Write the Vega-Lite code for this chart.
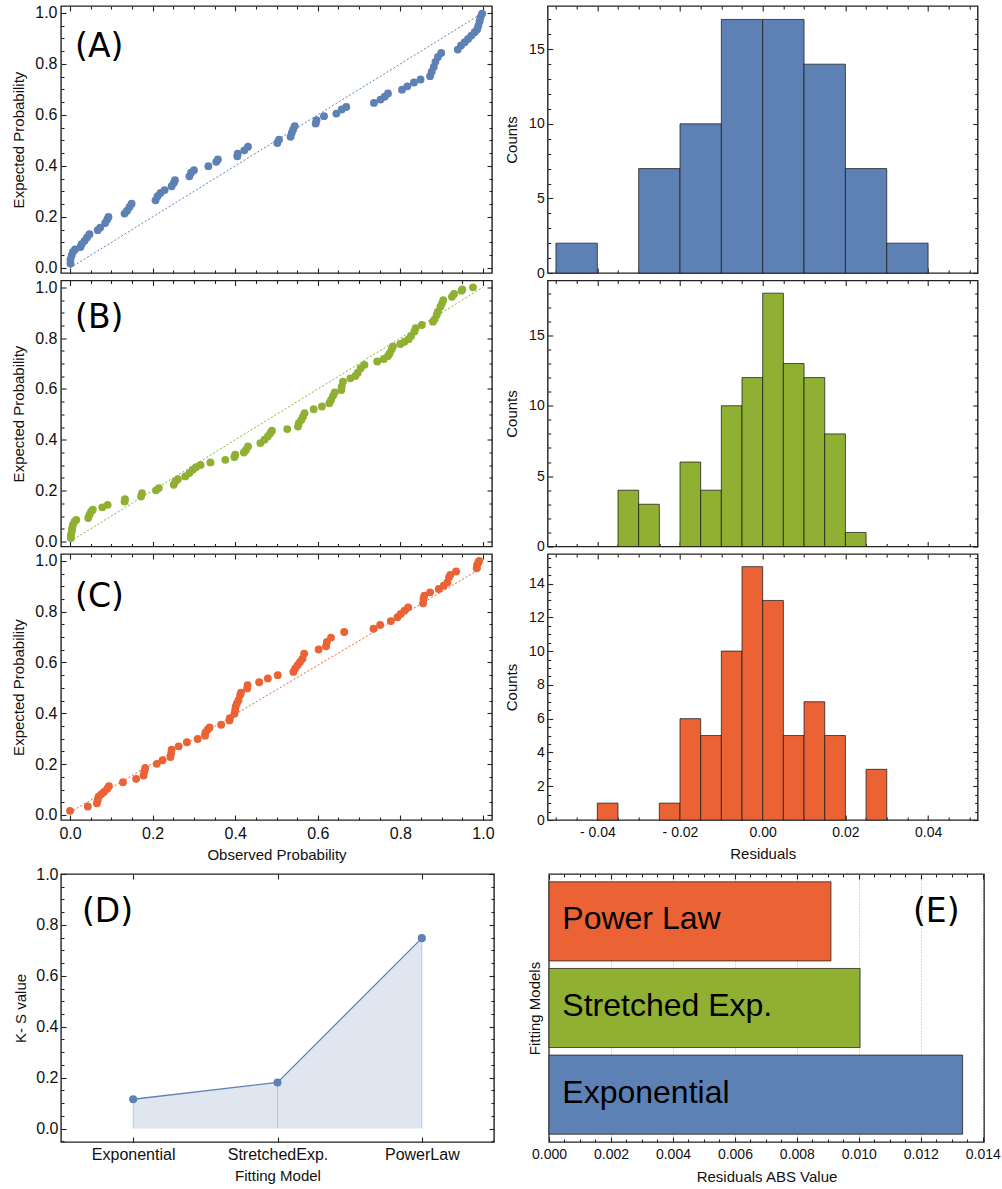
{
"$schema": "https://vega.github.io/schema/vega-lite/v6.json",
"background": "white",
"padding": {"left": 11, "top": 4, "right": 2, "bottom": 2},
"config": {
 "font": "Liberation Sans",
 "view": {"stroke": "#222", "strokeWidth": 1.4},
 "axis": {"domain": false, "grid": false, "tickColor": "#222", "tickWidth": 1.1, "tickSize": -5, "labelFont": "Liberation Sans", "labelFontSize": 16, "labelColor": "#111", "titleFont": "Liberation Sans", "titleFontSize": 15, "titleFontWeight": "normal", "titleColor": "#111", "labelFlush": false, "labelOverlap": false, "labelPadding": 9, "titlePadding": 7},
 "text": {"font": "Liberation Sans", "color": "#000"}
},
"datasets": {
 "ppA": [{"obs":0.001,"exp":0.017},{"obs":0.001,"exp":0.033},{"obs":0.004,"exp":0.050},{"obs":0.007,"exp":0.063},{"obs":0.012,"exp":0.072},{"obs":0.025,"exp":0.082},{"obs":0.028,"exp":0.093},{"obs":0.035,"exp":0.106},{"obs":0.041,"exp":0.119},{"obs":0.047,"exp":0.132},{"obs":0.067,"exp":0.148},{"obs":0.073,"exp":0.158},{"obs":0.085,"exp":0.176},{"obs":0.090,"exp":0.190},{"obs":0.093,"exp":0.200},{"obs":0.132,"exp":0.213},{"obs":0.138,"exp":0.224},{"obs":0.144,"exp":0.239},{"obs":0.149,"exp":0.252},{"obs":0.207,"exp":0.265},{"obs":0.212,"exp":0.281},{"obs":0.219,"exp":0.294},{"obs":0.229,"exp":0.305},{"obs":0.246,"exp":0.320},{"obs":0.251,"exp":0.333},{"obs":0.254,"exp":0.344},{"obs":0.289,"exp":0.359},{"obs":0.293,"exp":0.373},{"obs":0.300,"exp":0.383},{"obs":0.335,"exp":0.399},{"obs":0.354,"exp":0.416},{"obs":0.358,"exp":0.425},{"obs":0.405,"exp":0.438},{"obs":0.406,"exp":0.448},{"obs":0.422,"exp":0.461},{"obs":0.431,"exp":0.475},{"obs":0.502,"exp":0.490},{"obs":0.506,"exp":0.503},{"obs":0.534,"exp":0.514},{"obs":0.537,"exp":0.529},{"obs":0.540,"exp":0.542},{"obs":0.544,"exp":0.556},{"obs":0.595,"exp":0.566},{"obs":0.597,"exp":0.579},{"obs":0.615,"exp":0.595},{"obs":0.645,"exp":0.605},{"obs":0.658,"exp":0.621},{"obs":0.669,"exp":0.631},{"obs":0.736,"exp":0.647},{"obs":0.752,"exp":0.660},{"obs":0.762,"exp":0.671},{"obs":0.770,"exp":0.684},{"obs":0.804,"exp":0.699},{"obs":0.817,"exp":0.712},{"obs":0.833,"exp":0.727},{"obs":0.849,"exp":0.739},{"obs":0.872,"exp":0.752},{"obs":0.876,"exp":0.769},{"obs":0.881,"exp":0.788},{"obs":0.885,"exp":0.808},{"obs":0.891,"exp":0.827},{"obs":0.899,"exp":0.843},{"obs":0.939,"exp":0.856},{"obs":0.947,"exp":0.872},{"obs":0.956,"exp":0.885},{"obs":0.964,"exp":0.898},{"obs":0.972,"exp":0.911},{"obs":0.980,"exp":0.924},{"obs":0.986,"exp":0.935},{"obs":0.989,"exp":0.950},{"obs":0.992,"exp":0.966},{"obs":0.994,"exp":0.982},{"obs":0.998,"exp":0.997}],
 "ppB": [{"obs":0.002,"exp":0.013},{"obs":0.002,"exp":0.026},{"obs":0.004,"exp":0.039},{"obs":0.005,"exp":0.052},{"obs":0.007,"exp":0.066},{"obs":0.011,"exp":0.079},{"obs":0.015,"exp":0.085},{"obs":0.044,"exp":0.092},{"obs":0.047,"exp":0.105},{"obs":0.051,"exp":0.118},{"obs":0.055,"exp":0.125},{"obs":0.078,"exp":0.134},{"obs":0.091,"exp":0.144},{"obs":0.132,"exp":0.157},{"obs":0.133,"exp":0.166},{"obs":0.172,"exp":0.177},{"obs":0.174,"exp":0.190},{"obs":0.208,"exp":0.201},{"obs":0.215,"exp":0.210},{"obs":0.251,"exp":0.223},{"obs":0.255,"exp":0.236},{"obs":0.261,"exp":0.245},{"obs":0.279,"exp":0.256},{"obs":0.289,"exp":0.269},{"obs":0.297,"exp":0.282},{"obs":0.305,"exp":0.292},{"obs":0.316,"exp":0.301},{"obs":0.340,"exp":0.311},{"obs":0.376,"exp":0.321},{"obs":0.398,"exp":0.332},{"obs":0.400,"exp":0.341},{"obs":0.421,"exp":0.350},{"obs":0.426,"exp":0.360},{"obs":0.431,"exp":0.374},{"obs":0.461,"exp":0.387},{"obs":0.471,"exp":0.400},{"obs":0.479,"exp":0.413},{"obs":0.485,"exp":0.426},{"obs":0.489,"exp":0.436},{"obs":0.526,"exp":0.442},{"obs":0.552,"exp":0.452},{"obs":0.554,"exp":0.465},{"obs":0.560,"exp":0.478},{"obs":0.564,"exp":0.491},{"obs":0.568,"exp":0.505},{"obs":0.590,"exp":0.520},{"obs":0.610,"exp":0.531},{"obs":0.628,"exp":0.544},{"obs":0.632,"exp":0.557},{"obs":0.637,"exp":0.573},{"obs":0.641,"exp":0.586},{"obs":0.657,"exp":0.596},{"obs":0.658,"exp":0.609},{"obs":0.661,"exp":0.629},{"obs":0.679,"exp":0.642},{"obs":0.691,"exp":0.651},{"obs":0.697,"exp":0.664},{"obs":0.704,"exp":0.682},{"obs":0.713,"exp":0.695},{"obs":0.744,"exp":0.708},{"obs":0.760,"exp":0.718},{"obs":0.770,"exp":0.730},{"obs":0.774,"exp":0.740},{"obs":0.779,"exp":0.756},{"obs":0.782,"exp":0.767},{"obs":0.800,"exp":0.777},{"obs":0.810,"exp":0.786},{"obs":0.820,"exp":0.796},{"obs":0.826,"exp":0.809},{"obs":0.834,"exp":0.826},{"obs":0.837,"exp":0.839},{"obs":0.852,"exp":0.852},{"obs":0.879,"exp":0.865},{"obs":0.883,"exp":0.874},{"obs":0.888,"exp":0.891},{"obs":0.891,"exp":0.904},{"obs":0.897,"exp":0.924},{"obs":0.901,"exp":0.937},{"obs":0.904,"exp":0.950},{"obs":0.925,"exp":0.963},{"obs":0.930,"exp":0.974},{"obs":0.948,"exp":0.987},{"obs":0.950,"exp":0.992},{"obs":0.976,"exp":1.0}],
 "ppC": [{"obs":0.000,"exp":0.016},{"obs":0.043,"exp":0.033},{"obs":0.065,"exp":0.046},{"obs":0.067,"exp":0.059},{"obs":0.069,"exp":0.072},{"obs":0.075,"exp":0.081},{"obs":0.082,"exp":0.090},{"obs":0.090,"exp":0.103},{"obs":0.094,"exp":0.113},{"obs":0.128,"exp":0.129},{"obs":0.160,"exp":0.142},{"obs":0.178,"exp":0.155},{"obs":0.180,"exp":0.172},{"obs":0.182,"exp":0.185},{"obs":0.210,"exp":0.201},{"obs":0.224,"exp":0.215},{"obs":0.243,"exp":0.228},{"obs":0.245,"exp":0.244},{"obs":0.246,"exp":0.257},{"obs":0.263,"exp":0.270},{"obs":0.283,"exp":0.286},{"obs":0.309,"exp":0.299},{"obs":0.327,"exp":0.312},{"obs":0.328,"exp":0.325},{"obs":0.333,"exp":0.335},{"obs":0.338,"exp":0.344},{"obs":0.366,"exp":0.355},{"obs":0.386,"exp":0.372},{"obs":0.387,"exp":0.381},{"obs":0.398,"exp":0.398},{"obs":0.400,"exp":0.413},{"obs":0.401,"exp":0.426},{"obs":0.404,"exp":0.439},{"obs":0.408,"exp":0.452},{"obs":0.412,"exp":0.472},{"obs":0.414,"exp":0.481},{"obs":0.429,"exp":0.498},{"obs":0.430,"exp":0.511},{"obs":0.458,"exp":0.522},{"obs":0.479,"exp":0.537},{"obs":0.503,"exp":0.550},{"obs":0.541,"exp":0.563},{"obs":0.545,"exp":0.576},{"obs":0.551,"exp":0.589},{"obs":0.557,"exp":0.602},{"obs":0.563,"exp":0.615},{"obs":0.567,"exp":0.635},{"obs":0.602,"exp":0.651},{"obs":0.620,"exp":0.664},{"obs":0.622,"exp":0.681},{"obs":0.632,"exp":0.698},{"obs":0.664,"exp":0.720},{"obs":0.735,"exp":0.733},{"obs":0.751,"exp":0.748},{"obs":0.777,"exp":0.763},{"obs":0.793,"exp":0.778},{"obs":0.801,"exp":0.791},{"obs":0.810,"exp":0.804},{"obs":0.819,"exp":0.817},{"obs":0.855,"exp":0.833},{"obs":0.856,"exp":0.850},{"obs":0.858,"exp":0.863},{"obs":0.872,"exp":0.876},{"obs":0.893,"exp":0.889},{"obs":0.905,"exp":0.902},{"obs":0.914,"exp":0.915},{"obs":0.918,"exp":0.935},{"obs":0.921,"exp":0.945},{"obs":0.935,"exp":0.958},{"obs":0.985,"exp":0.971},{"obs":0.986,"exp":0.984},{"obs":0.989,"exp":0.994},{"obs":0.991,"exp":1.0}],
 "refA": [{"obs":0,"exp":0},{"obs":1,"exp":1}],
 "refB": [{"obs":0,"exp":0},{"obs":1,"exp":1}],
 "refC": [{"obs":0,"exp":0.01},{"obs":1,"exp":0.975}],
 "hA": [{"start":-0.05,"end":-0.04,"count":2},{"start":-0.03,"end":-0.02,"count":7},{"start":-0.02,"end":-0.01,"count":10},{"start":-0.01,"end":0,"count":17},{"start":0,"end":0.01,"count":17},{"start":0.01,"end":0.02,"count":14},{"start":0.02,"end":0.03,"count":7},{"start":0.03,"end":0.04,"count":2}],
 "hB": [{"start":-0.035,"end":-0.03,"count":4},{"start":-0.03,"end":-0.025,"count":3},{"start":-0.02,"end":-0.015,"count":6},{"start":-0.015,"end":-0.01,"count":4},{"start":-0.01,"end":-0.005,"count":10},{"start":-0.005,"end":0,"count":12},{"start":0,"end":0.005,"count":18},{"start":0.005,"end":0.01,"count":13},{"start":0.01,"end":0.015,"count":12},{"start":0.015,"end":0.02,"count":8},{"start":0.02,"end":0.025,"count":1}],
 "hC": [{"start":-0.04,"end":-0.035,"count":1},{"start":-0.025,"end":-0.02,"count":1},{"start":-0.02,"end":-0.015,"count":6},{"start":-0.015,"end":-0.01,"count":5},{"start":-0.01,"end":-0.005,"count":10},{"start":-0.005,"end":0,"count":15},{"start":0,"end":0.005,"count":13},{"start":0.005,"end":0.01,"count":5},{"start":0.01,"end":0.015,"count":7},{"start":0.015,"end":0.02,"count":5},{"start":0.025,"end":0.03,"count":3}],
 "ks": [{"model":"Exponential","ks":0.115},{"model":"StretchedExp.","ks":0.181},{"model":"PowerLaw","ks":0.748}],
 "res": [{"model":"Power Law","abs":0.0091},{"model":"Stretched Exp.","abs":0.01004},{"model":"Exponential","abs":0.01335}]
},
"vconcat": [
 {
  "columns": 2,
  "bounds": "flush",
  "spacing": {"row": 7.5, "column": 55.7},
  "concat": [
   {
    "width": 431, "height": 267,
    "layer": [
     {"data": {"name": "refA"}, "mark": {"type": "line", "color": "#5E81B5", "strokeDash": [2, 2], "strokeWidth": 1},
      "encoding": {"x": {"field": "obs", "type": "quantitative", "scale": {"domain": [-0.022, 1.022], "nice": false}, "axis": null}, "y": {"field": "exp", "type": "quantitative", "scale": {"domain": [-0.02, 1.027], "nice": false}, "axis": null}}},
     {"data": {"name": "ppA"}, "mark": {"type": "point", "filled": true, "size": 62, "color": "#5E81B5", "opacity": 1},
      "encoding": {"x": {"field": "obs", "type": "quantitative", "scale": {"domain": [-0.022, 1.022], "nice": false}, "axis": {"orient": "bottom", "values": [0, 0.2, 0.4, 0.6, 0.8, 1], "labels": false, "title": null}}, "y": {"field": "exp", "type": "quantitative", "scale": {"domain": [-0.02, 1.027], "nice": false}, "axis": {"orient": "left", "values": [0, 0.2, 0.4, 0.6, 0.8, 1], "format": ".1f", "title": "Expected Probability", "labelPadding": 9, "titlePadding": 8}}}},
     {"data": {"name": "ppA"}, "mark": {"type": "point", "opacity": 0},
      "encoding": {"x": {"field": "obs", "type": "quantitative", "scale": {"domain": [-0.022, 1.022], "nice": false}, "axis": {"orient": "top", "values": [0, 0.2, 0.4, 0.6, 0.8, 1], "labels": false, "title": null}}, "y": {"field": "exp", "type": "quantitative", "scale": {"domain": [-0.02, 1.027], "nice": false}, "axis": {"orient": "right", "values": [0, 0.2, 0.4, 0.6, 0.8, 1], "labels": false, "title": null}}}},
     {"data": {"name": "ppA"}, "mark": {"type": "point", "opacity": 0},
      "encoding": {"x": {"field": "obs", "type": "quantitative", "scale": {"domain": [-0.022, 1.022], "nice": false}, "axis": {"orient": "bottom", "values": [0.05, 0.1, 0.15, 0.25, 0.3, 0.35, 0.45, 0.5, 0.55, 0.65, 0.7, 0.75, 0.85, 0.9, 0.95], "labels": false, "title": null, "tickSize": -3}}, "y": {"field": "exp", "type": "quantitative", "scale": {"domain": [-0.02, 1.027], "nice": false}, "axis": {"orient": "left", "values": [0.05, 0.1, 0.15, 0.25, 0.3, 0.35, 0.45, 0.5, 0.55, 0.65, 0.7, 0.75, 0.85, 0.9, 0.95], "labels": false, "title": null, "tickSize": -3}}}},
     {"data": {"name": "ppA"}, "mark": {"type": "point", "opacity": 0},
      "encoding": {"x": {"field": "obs", "type": "quantitative", "scale": {"domain": [-0.022, 1.022], "nice": false}, "axis": {"orient": "top", "values": [0.05, 0.1, 0.15, 0.25, 0.3, 0.35, 0.45, 0.5, 0.55, 0.65, 0.7, 0.75, 0.85, 0.9, 0.95], "labels": false, "title": null, "tickSize": -3}}, "y": {"field": "exp", "type": "quantitative", "scale": {"domain": [-0.02, 1.027], "nice": false}, "axis": {"orient": "right", "values": [0.05, 0.1, 0.15, 0.25, 0.3, 0.35, 0.45, 0.5, 0.55, 0.65, 0.7, 0.75, 0.85, 0.9, 0.95], "labels": false, "title": null, "tickSize": -3}}}},
     {"data": {"values": [{"label": "(A)"}]}, "mark": {"type": "text", "align": "left", "baseline": "middle", "font": "DejaVu Sans", "fontSize": 33},
      "encoding": {"x": {"datum": 0.012, "type": "quantitative", "scale": {"domain": [-0.022, 1.022], "nice": false}, "axis": null}, "y": {"datum": 0.868, "type": "quantitative", "scale": {"domain": [-0.02, 1.027], "nice": false}, "axis": null}, "text": {"field": "label", "type": "nominal"}}}
    ],
    "resolve": {"axis": {"x": "independent", "y": "independent"}}
   },
   {
    "width": 430, "height": 267,
    "layer": [
     {"data": {"name": "hA"}, "mark": {"type": "bar", "color": "#5E81B5", "stroke": "#1b1b1b", "strokeWidth": 1, "strokeOpacity": 0.75},
      "encoding": {"x": {"field": "start", "type": "quantitative", "scale": {"domain": [-0.052, 0.052], "nice": false}, "axis": {"orient": "bottom", "values": [-0.04, -0.02, 0, 0.02, 0.04], "labels": false, "title": null}}, "x2": {"field": "end"}, "y": {"field": "count", "type": "quantitative", "scale": {"domain": [0, 17.9], "nice": false}, "axis": {"orient": "left", "values": [0, 5, 10, 15], "title": "Counts", "labelFontSize": 14, "labelPadding": 8.5, "titlePadding": 9}}, "y2": {"datum": 0}}},
     {"data": {"name": "hA"}, "mark": {"type": "point", "opacity": 0},
      "encoding": {"x": {"field": "start", "type": "quantitative", "scale": {"domain": [-0.052, 0.052], "nice": false}, "axis": {"orient": "top", "values": [-0.04, -0.02, 0, 0.02, 0.04], "labels": false, "title": null}}, "y": {"field": "count", "type": "quantitative", "scale": {"domain": [0, 17.9], "nice": false}, "axis": {"orient": "right", "values": [0, 5, 10, 15], "labels": false, "title": null}}}},
     {"data": {"name": "hA"}, "mark": {"type": "point", "opacity": 0},
      "encoding": {"x": {"field": "start", "type": "quantitative", "scale": {"domain": [-0.052, 0.052], "nice": false}, "axis": {"orient": "bottom", "values": [-0.05, -0.045, -0.035, -0.03, -0.025, -0.015, -0.01, -0.005, 0.005, 0.01, 0.015, 0.025, 0.03, 0.035, 0.045, 0.05], "labels": false, "title": null, "tickSize": -3}}, "y": {"field": "count", "type": "quantitative", "scale": {"domain": [0, 17.9], "nice": false}, "axis": {"orient": "left", "values": [1, 2, 3, 4, 6, 7, 8, 9, 11, 12, 13, 14, 16, 17], "labels": false, "title": null, "tickSize": -3}}}},
     {"data": {"name": "hA"}, "mark": {"type": "point", "opacity": 0},
      "encoding": {"x": {"field": "start", "type": "quantitative", "scale": {"domain": [-0.052, 0.052], "nice": false}, "axis": {"orient": "top", "values": [-0.05, -0.045, -0.035, -0.03, -0.025, -0.015, -0.01, -0.005, 0.005, 0.01, 0.015, 0.025, 0.03, 0.035, 0.045, 0.05], "labels": false, "title": null, "tickSize": -3}}, "y": {"field": "count", "type": "quantitative", "scale": {"domain": [0, 17.9], "nice": false}, "axis": {"orient": "right", "values": [1, 2, 3, 4, 6, 7, 8, 9, 11, 12, 13, 14, 16, 17], "labels": false, "title": null, "tickSize": -3}}}}
    ],
    "resolve": {"axis": {"x": "independent", "y": "independent"}}
   },
   {
    "width": 431, "height": 266,
    "layer": [
     {"data": {"name": "refB"}, "mark": {"type": "line", "color": "#8FB032", "strokeDash": [2, 2], "strokeWidth": 1},
      "encoding": {"x": {"field": "obs", "type": "quantitative", "scale": {"domain": [-0.022, 1.022], "nice": false}, "axis": null}, "y": {"field": "exp", "type": "quantitative", "scale": {"domain": [-0.02, 1.027], "nice": false}, "axis": null}}},
     {"data": {"name": "ppB"}, "mark": {"type": "point", "filled": true, "size": 62, "color": "#8FB032", "opacity": 1},
      "encoding": {"x": {"field": "obs", "type": "quantitative", "scale": {"domain": [-0.022, 1.022], "nice": false}, "axis": {"orient": "bottom", "values": [0, 0.2, 0.4, 0.6, 0.8, 1], "labels": false, "title": null}}, "y": {"field": "exp", "type": "quantitative", "scale": {"domain": [-0.02, 1.027], "nice": false}, "axis": {"orient": "left", "values": [0, 0.2, 0.4, 0.6, 0.8, 1], "format": ".1f", "title": "Expected Probability", "labelPadding": 9, "titlePadding": 8}}}},
     {"data": {"name": "ppB"}, "mark": {"type": "point", "opacity": 0},
      "encoding": {"x": {"field": "obs", "type": "quantitative", "scale": {"domain": [-0.022, 1.022], "nice": false}, "axis": {"orient": "top", "values": [0, 0.2, 0.4, 0.6, 0.8, 1], "labels": false, "title": null}}, "y": {"field": "exp", "type": "quantitative", "scale": {"domain": [-0.02, 1.027], "nice": false}, "axis": {"orient": "right", "values": [0, 0.2, 0.4, 0.6, 0.8, 1], "labels": false, "title": null}}}},
     {"data": {"name": "ppB"}, "mark": {"type": "point", "opacity": 0},
      "encoding": {"x": {"field": "obs", "type": "quantitative", "scale": {"domain": [-0.022, 1.022], "nice": false}, "axis": {"orient": "bottom", "values": [0.05, 0.1, 0.15, 0.25, 0.3, 0.35, 0.45, 0.5, 0.55, 0.65, 0.7, 0.75, 0.85, 0.9, 0.95], "labels": false, "title": null, "tickSize": -3}}, "y": {"field": "exp", "type": "quantitative", "scale": {"domain": [-0.02, 1.027], "nice": false}, "axis": {"orient": "left", "values": [0.05, 0.1, 0.15, 0.25, 0.3, 0.35, 0.45, 0.5, 0.55, 0.65, 0.7, 0.75, 0.85, 0.9, 0.95], "labels": false, "title": null, "tickSize": -3}}}},
     {"data": {"name": "ppB"}, "mark": {"type": "point", "opacity": 0},
      "encoding": {"x": {"field": "obs", "type": "quantitative", "scale": {"domain": [-0.022, 1.022], "nice": false}, "axis": {"orient": "top", "values": [0.05, 0.1, 0.15, 0.25, 0.3, 0.35, 0.45, 0.5, 0.55, 0.65, 0.7, 0.75, 0.85, 0.9, 0.95], "labels": false, "title": null, "tickSize": -3}}, "y": {"field": "exp", "type": "quantitative", "scale": {"domain": [-0.02, 1.027], "nice": false}, "axis": {"orient": "right", "values": [0.05, 0.1, 0.15, 0.25, 0.3, 0.35, 0.45, 0.5, 0.55, 0.65, 0.7, 0.75, 0.85, 0.9, 0.95], "labels": false, "title": null, "tickSize": -3}}}},
     {"data": {"values": [{"label": "(B)"}]}, "mark": {"type": "text", "align": "left", "baseline": "middle", "font": "DejaVu Sans", "fontSize": 33},
      "encoding": {"x": {"datum": 0.012, "type": "quantitative", "scale": {"domain": [-0.022, 1.022], "nice": false}, "axis": null}, "y": {"datum": 0.878, "type": "quantitative", "scale": {"domain": [-0.02, 1.027], "nice": false}, "axis": null}, "text": {"field": "label", "type": "nominal"}}}
    ],
    "resolve": {"axis": {"x": "independent", "y": "independent"}}
   },
   {
    "width": 430, "height": 266,
    "layer": [
     {"data": {"name": "hB"}, "mark": {"type": "bar", "color": "#8FB032", "stroke": "#1b1b1b", "strokeWidth": 1, "strokeOpacity": 0.75},
      "encoding": {"x": {"field": "start", "type": "quantitative", "scale": {"domain": [-0.052, 0.052], "nice": false}, "axis": {"orient": "bottom", "values": [-0.04, -0.02, 0, 0.02, 0.04], "labels": false, "title": null}}, "x2": {"field": "end"}, "y": {"field": "count", "type": "quantitative", "scale": {"domain": [0, 18.9], "nice": false}, "axis": {"orient": "left", "values": [0, 5, 10, 15], "title": "Counts", "labelFontSize": 14, "labelPadding": 8.5, "titlePadding": 9}}, "y2": {"datum": 0}}},
     {"data": {"name": "hB"}, "mark": {"type": "point", "opacity": 0},
      "encoding": {"x": {"field": "start", "type": "quantitative", "scale": {"domain": [-0.052, 0.052], "nice": false}, "axis": {"orient": "top", "values": [-0.04, -0.02, 0, 0.02, 0.04], "labels": false, "title": null}}, "y": {"field": "count", "type": "quantitative", "scale": {"domain": [0, 18.9], "nice": false}, "axis": {"orient": "right", "values": [0, 5, 10, 15], "labels": false, "title": null}}}},
     {"data": {"name": "hB"}, "mark": {"type": "point", "opacity": 0},
      "encoding": {"x": {"field": "start", "type": "quantitative", "scale": {"domain": [-0.052, 0.052], "nice": false}, "axis": {"orient": "bottom", "values": [-0.05, -0.045, -0.035, -0.03, -0.025, -0.015, -0.01, -0.005, 0.005, 0.01, 0.015, 0.025, 0.03, 0.035, 0.045, 0.05], "labels": false, "title": null, "tickSize": -3}}, "y": {"field": "count", "type": "quantitative", "scale": {"domain": [0, 18.9], "nice": false}, "axis": {"orient": "left", "values": [1, 2, 3, 4, 6, 7, 8, 9, 11, 12, 13, 14, 16, 17, 18], "labels": false, "title": null, "tickSize": -3}}}},
     {"data": {"name": "hB"}, "mark": {"type": "point", "opacity": 0},
      "encoding": {"x": {"field": "start", "type": "quantitative", "scale": {"domain": [-0.052, 0.052], "nice": false}, "axis": {"orient": "top", "values": [-0.05, -0.045, -0.035, -0.03, -0.025, -0.015, -0.01, -0.005, 0.005, 0.01, 0.015, 0.025, 0.03, 0.035, 0.045, 0.05], "labels": false, "title": null, "tickSize": -3}}, "y": {"field": "count", "type": "quantitative", "scale": {"domain": [0, 18.9], "nice": false}, "axis": {"orient": "right", "values": [1, 2, 3, 4, 6, 7, 8, 9, 11, 12, 13, 14, 16, 17, 18], "labels": false, "title": null, "tickSize": -3}}}}
    ],
    "resolve": {"axis": {"x": "independent", "y": "independent"}}
   },
   {
    "width": 431, "height": 266,
    "layer": [
     {"data": {"name": "refC"}, "mark": {"type": "line", "color": "#EB6235", "strokeDash": [2, 2], "strokeWidth": 1},
      "encoding": {"x": {"field": "obs", "type": "quantitative", "scale": {"domain": [-0.022, 1.022], "nice": false}, "axis": null}, "y": {"field": "exp", "type": "quantitative", "scale": {"domain": [-0.02, 1.027], "nice": false}, "axis": null}}},
     {"data": {"name": "ppC"}, "mark": {"type": "point", "filled": true, "size": 62, "color": "#EB6235", "opacity": 1},
      "encoding": {"x": {"field": "obs", "type": "quantitative", "scale": {"domain": [-0.022, 1.022], "nice": false}, "axis": {"orient": "bottom", "values": [0, 0.2, 0.4, 0.6, 0.8, 1], "format": ".1f", "title": "Observed Probability", "labelPadding": 10, "titlePadding": 6}}, "y": {"field": "exp", "type": "quantitative", "scale": {"domain": [-0.02, 1.027], "nice": false}, "axis": {"orient": "left", "values": [0, 0.2, 0.4, 0.6, 0.8, 1], "format": ".1f", "title": "Expected Probability", "labelPadding": 9, "titlePadding": 8}}}},
     {"data": {"name": "ppC"}, "mark": {"type": "point", "opacity": 0},
      "encoding": {"x": {"field": "obs", "type": "quantitative", "scale": {"domain": [-0.022, 1.022], "nice": false}, "axis": {"orient": "top", "values": [0, 0.2, 0.4, 0.6, 0.8, 1], "labels": false, "title": null}}, "y": {"field": "exp", "type": "quantitative", "scale": {"domain": [-0.02, 1.027], "nice": false}, "axis": {"orient": "right", "values": [0, 0.2, 0.4, 0.6, 0.8, 1], "labels": false, "title": null}}}},
     {"data": {"name": "ppC"}, "mark": {"type": "point", "opacity": 0},
      "encoding": {"x": {"field": "obs", "type": "quantitative", "scale": {"domain": [-0.022, 1.022], "nice": false}, "axis": {"orient": "bottom", "values": [0.05, 0.1, 0.15, 0.25, 0.3, 0.35, 0.45, 0.5, 0.55, 0.65, 0.7, 0.75, 0.85, 0.9, 0.95], "labels": false, "title": null, "tickSize": -3}}, "y": {"field": "exp", "type": "quantitative", "scale": {"domain": [-0.02, 1.027], "nice": false}, "axis": {"orient": "left", "values": [0.05, 0.1, 0.15, 0.25, 0.3, 0.35, 0.45, 0.5, 0.55, 0.65, 0.7, 0.75, 0.85, 0.9, 0.95], "labels": false, "title": null, "tickSize": -3}}}},
     {"data": {"name": "ppC"}, "mark": {"type": "point", "opacity": 0},
      "encoding": {"x": {"field": "obs", "type": "quantitative", "scale": {"domain": [-0.022, 1.022], "nice": false}, "axis": {"orient": "top", "values": [0.05, 0.1, 0.15, 0.25, 0.3, 0.35, 0.45, 0.5, 0.55, 0.65, 0.7, 0.75, 0.85, 0.9, 0.95], "labels": false, "title": null, "tickSize": -3}}, "y": {"field": "exp", "type": "quantitative", "scale": {"domain": [-0.02, 1.027], "nice": false}, "axis": {"orient": "right", "values": [0.05, 0.1, 0.15, 0.25, 0.3, 0.35, 0.45, 0.5, 0.55, 0.65, 0.7, 0.75, 0.85, 0.9, 0.95], "labels": false, "title": null, "tickSize": -3}}}},
     {"data": {"values": [{"label": "(C)"}]}, "mark": {"type": "text", "align": "left", "baseline": "middle", "font": "DejaVu Sans", "fontSize": 33},
      "encoding": {"x": {"datum": 0.012, "type": "quantitative", "scale": {"domain": [-0.022, 1.022], "nice": false}, "axis": null}, "y": {"datum": 0.857, "type": "quantitative", "scale": {"domain": [-0.02, 1.027], "nice": false}, "axis": null}, "text": {"field": "label", "type": "nominal"}}}
    ],
    "resolve": {"axis": {"x": "independent", "y": "independent"}}
   },
   {
    "width": 430, "height": 266,
    "layer": [
     {"data": {"name": "hC"}, "mark": {"type": "bar", "color": "#EB6235", "stroke": "#1b1b1b", "strokeWidth": 1, "strokeOpacity": 0.75},
      "encoding": {"x": {"field": "start", "type": "quantitative", "scale": {"domain": [-0.052, 0.052], "nice": false}, "axis": {"orient": "bottom", "values": [-0.04, -0.02, 0, 0.02, 0.04], "labelExpr": "datum.value < 0 ? '- ' + format(-datum.value, '.2f') : format(datum.value, '.2f')", "labelFontSize": 14, "title": "Residuals", "labelPadding": 10, "titlePadding": 7}}, "x2": {"field": "end"}, "y": {"field": "count", "type": "quantitative", "scale": {"domain": [0, 15.75], "nice": false}, "axis": {"orient": "left", "values": [0, 2, 4, 6, 8, 10, 12, 14], "title": "Counts", "labelFontSize": 14, "labelPadding": 8.5, "titlePadding": 9}}, "y2": {"datum": 0}}},
     {"data": {"name": "hC"}, "mark": {"type": "point", "opacity": 0},
      "encoding": {"x": {"field": "start", "type": "quantitative", "scale": {"domain": [-0.052, 0.052], "nice": false}, "axis": {"orient": "top", "values": [-0.04, -0.02, 0, 0.02, 0.04], "labels": false, "title": null}}, "y": {"field": "count", "type": "quantitative", "scale": {"domain": [0, 15.75], "nice": false}, "axis": {"orient": "right", "values": [0, 2, 4, 6, 8, 10, 12, 14], "labels": false, "title": null}}}},
     {"data": {"name": "hC"}, "mark": {"type": "point", "opacity": 0},
      "encoding": {"x": {"field": "start", "type": "quantitative", "scale": {"domain": [-0.052, 0.052], "nice": false}, "axis": {"orient": "bottom", "values": [-0.05, -0.045, -0.035, -0.03, -0.025, -0.015, -0.01, -0.005, 0.005, 0.01, 0.015, 0.025, 0.03, 0.035, 0.045, 0.05], "labels": false, "title": null, "tickSize": -3}}, "y": {"field": "count", "type": "quantitative", "scale": {"domain": [0, 15.75], "nice": false}, "axis": {"orient": "left", "values": [0.5, 1, 1.5, 2.5, 3, 3.5, 4.5, 5, 5.5, 6.5, 7, 7.5, 8.5, 9, 9.5, 10.5, 11, 11.5, 12.5, 13, 13.5, 14.5, 15, 15.5], "labels": false, "title": null, "tickSize": -3}}}},
     {"data": {"name": "hC"}, "mark": {"type": "point", "opacity": 0},
      "encoding": {"x": {"field": "start", "type": "quantitative", "scale": {"domain": [-0.052, 0.052], "nice": false}, "axis": {"orient": "top", "values": [-0.05, -0.045, -0.035, -0.03, -0.025, -0.015, -0.01, -0.005, 0.005, 0.01, 0.015, 0.025, 0.03, 0.035, 0.045, 0.05], "labels": false, "title": null, "tickSize": -3}}, "y": {"field": "count", "type": "quantitative", "scale": {"domain": [0, 15.75], "nice": false}, "axis": {"orient": "right", "values": [0.5, 1, 1.5, 2.5, 3, 3.5, 4.5, 5, 5.5, 6.5, 7, 7.5, 8.5, 9, 9.5, 10.5, 11, 11.5, 12.5, 13, 13.5, 14.5, 15, 15.5], "labels": false, "title": null, "tickSize": -3}}}}
    ],
    "resolve": {"axis": {"x": "independent", "y": "independent"}}
   }
  ]
 },
 {
  "bounds": "flush",
  "spacing": 55,
  "hconcat": [
   {
    "width": 433, "height": 268,
    "layer": [
     {"data": {"name": "ks"}, "mark": {"type": "area", "color": "#5E81B5", "opacity": 0.2},
      "encoding": {"x": {"field": "model", "type": "nominal", "sort": null, "scale": {"type": "point", "domain": ["Exponential", "StretchedExp.", "PowerLaw"], "padding": 0.5}, "axis": null}, "y": {"field": "ks", "type": "quantitative", "scale": {"domain": [-0.053, 1.0], "nice": false}, "axis": null}, "y2": {"datum": 0}}},
     {"data": {"name": "ks"}, "mark": {"type": "rule", "color": "#5E81B5", "opacity": 0.35, "strokeWidth": 1},
      "encoding": {"x": {"field": "model", "type": "nominal", "sort": null, "scale": {"type": "point", "domain": ["Exponential", "StretchedExp.", "PowerLaw"], "padding": 0.5}, "axis": null}, "y": {"field": "ks", "type": "quantitative", "scale": {"domain": [-0.053, 1.0], "nice": false}, "axis": null}, "y2": {"datum": 0}}},
     {"data": {"name": "ks"}, "mark": {"type": "line", "color": "#5E81B5", "strokeWidth": 1.3},
      "encoding": {"x": {"field": "model", "type": "nominal", "sort": null, "scale": {"type": "point", "domain": ["Exponential", "StretchedExp.", "PowerLaw"], "padding": 0.5}, "axis": null}, "y": {"field": "ks", "type": "quantitative", "scale": {"domain": [-0.053, 1.0], "nice": false}, "axis": null}}},
     {"data": {"name": "ks"}, "mark": {"type": "point", "filled": true, "size": 65, "color": "#5E81B5", "opacity": 1},
      "encoding": {"x": {"field": "model", "type": "nominal", "sort": null, "scale": {"type": "point", "domain": ["Exponential", "StretchedExp.", "PowerLaw"], "padding": 0.5}, "axis": {"orient": "bottom", "labelAngle": 0, "title": "Fitting Model", "labelPadding": 9, "titlePadding": 6}}, "y": {"field": "ks", "type": "quantitative", "scale": {"domain": [-0.053, 1.0], "nice": false}, "axis": {"orient": "left", "values": [0, 0.2, 0.4, 0.6, 0.8, 1], "format": ".1f", "title": "K- S value", "labelPadding": 8, "titlePadding": 7}}}},
     {"data": {"name": "ks"}, "mark": {"type": "point", "opacity": 0},
      "encoding": {"x": {"field": "model", "type": "nominal", "sort": null, "scale": {"type": "point", "domain": ["Exponential", "StretchedExp.", "PowerLaw"], "padding": 0.5}, "axis": {"orient": "top", "labels": false, "title": null}}, "y": {"field": "ks", "type": "quantitative", "scale": {"domain": [-0.053, 1.0], "nice": false}, "axis": {"orient": "right", "values": [0, 0.2, 0.4, 0.6, 0.8, 1], "labels": false, "title": null}}}},
     {"data": {"name": "ks"}, "mark": {"type": "point", "opacity": 0},
      "encoding": {"x": {"field": "model", "type": "nominal", "sort": null, "scale": {"type": "point", "domain": ["Exponential", "StretchedExp.", "PowerLaw"], "padding": 0.5}, "axis": null}, "y": {"field": "ks", "type": "quantitative", "scale": {"domain": [-0.053, 1.0], "nice": false}, "axis": {"orient": "left", "values": [-0.05, 0.05, 0.1, 0.15, 0.25, 0.3, 0.35, 0.45, 0.5, 0.55, 0.65, 0.7, 0.75, 0.85, 0.9, 0.95], "labels": false, "title": null, "tickSize": -3}}}},
     {"data": {"name": "ks"}, "mark": {"type": "point", "opacity": 0},
      "encoding": {"x": {"field": "model", "type": "nominal", "sort": null, "scale": {"type": "point", "domain": ["Exponential", "StretchedExp.", "PowerLaw"], "padding": 0.5}, "axis": null}, "y": {"field": "ks", "type": "quantitative", "scale": {"domain": [-0.053, 1.0], "nice": false}, "axis": {"orient": "right", "values": [-0.05, 0.05, 0.1, 0.15, 0.25, 0.3, 0.35, 0.45, 0.5, 0.55, 0.65, 0.7, 0.75, 0.85, 0.9, 0.95], "labels": false, "title": null, "tickSize": -3}}}},
     {"data": {"values": [{"label": "(D)", "model": "Exponential"}]}, "mark": {"type": "text", "align": "right", "baseline": "middle", "font": "DejaVu Sans", "fontSize": 33},
      "encoding": {"x": {"field": "model", "type": "nominal", "sort": null, "scale": {"type": "point", "domain": ["Exponential", "StretchedExp.", "PowerLaw"], "padding": 0.5}, "axis": null}, "y": {"datum": 0.849, "type": "quantitative", "scale": {"domain": [-0.053, 1.0], "nice": false}, "axis": null}, "text": {"field": "label", "type": "nominal"}}}
    ],
    "resolve": {"axis": {"x": "independent", "y": "independent"}}
   },
   {
    "width": 435, "height": 268,
    "layer": [
     {"data": {"name": "res"}, "mark": {"type": "bar", "stroke": "#1b1b1b", "strokeWidth": 1, "strokeOpacity": 0.75},
      "encoding": {"x": {"field": "abs", "type": "quantitative", "scale": {"domain": [0, 0.01404], "nice": false}, "axis": {"orient": "bottom", "values": [0, 0.002, 0.004, 0.006, 0.008, 0.01, 0.012, 0.014], "format": ".3f", "labelFontSize": 14, "title": "Residuals ABS Value", "labelPadding": 10, "titlePadding": 8, "grid": true, "gridDash": [1, 2], "gridColor": "#b5b5b5", "gridWidth": 1}}, "y": {"field": "model", "type": "nominal", "sort": null, "scale": {"domain": ["Power Law", "Stretched Exp.", "Exponential"], "paddingInner": 0.087, "paddingOuter": 0.09}, "axis": {"orient": "left", "labels": false, "ticks": false, "title": "Fitting Models", "titlePadding": 7}}, "color": {"field": "model", "type": "nominal", "scale": {"domain": ["Power Law", "Stretched Exp.", "Exponential"], "range": ["#EB6235", "#8FB032", "#5E81B5"]}, "legend": null}}},
     {"data": {"name": "res"}, "mark": {"type": "text", "align": "left", "baseline": "alphabetic", "dy": 8, "fontSize": 32, "font": "Liberation Sans", "color": "#000"},
      "encoding": {"x": {"datum": 0.00043, "type": "quantitative", "scale": {"domain": [0, 0.01404], "nice": false}, "axis": null}, "y": {"field": "model", "type": "nominal", "sort": null, "scale": {"domain": ["Power Law", "Stretched Exp.", "Exponential"], "paddingInner": 0.087, "paddingOuter": 0.09}, "axis": null}, "text": {"field": "model", "type": "nominal"}}},
     {"data": {"values": [{"label": "(E)", "model": "Power Law"}]}, "mark": {"type": "text", "align": "center", "baseline": "middle", "dy": -9, "fontSize": 33, "font": "DejaVu Sans", "color": "#000"},
      "encoding": {"x": {"datum": 0.0125, "type": "quantitative", "scale": {"domain": [0, 0.01404], "nice": false}, "axis": null}, "y": {"field": "model", "type": "nominal", "sort": null, "scale": {"domain": ["Power Law", "Stretched Exp.", "Exponential"], "paddingInner": 0.087, "paddingOuter": 0.09}, "axis": null}, "text": {"field": "label", "type": "nominal"}}},
     {"data": {"name": "res"}, "mark": {"type": "point", "opacity": 0},
      "encoding": {"x": {"field": "abs", "type": "quantitative", "scale": {"domain": [0, 0.01404], "nice": false}, "axis": {"orient": "top", "values": [0, 0.002, 0.004, 0.006, 0.008, 0.01, 0.012, 0.014], "labels": false, "title": null}}, "y": {"field": "model", "type": "nominal", "sort": null, "scale": {"domain": ["Power Law", "Stretched Exp.", "Exponential"], "paddingInner": 0.087, "paddingOuter": 0.09}, "axis": null}}},
     {"data": {"name": "res"}, "mark": {"type": "point", "opacity": 0},
      "encoding": {"x": {"field": "abs", "type": "quantitative", "scale": {"domain": [0, 0.01404], "nice": false}, "axis": {"orient": "bottom", "values": [0.0005, 0.001, 0.0015, 0.0025, 0.003, 0.0035, 0.0045, 0.005, 0.0055, 0.0065, 0.007, 0.0075, 0.0085, 0.009, 0.0095, 0.0105, 0.011, 0.0115, 0.0125, 0.013, 0.0135], "labels": false, "title": null, "tickSize": -3}}, "y": {"field": "model", "type": "nominal", "sort": null, "scale": {"domain": ["Power Law", "Stretched Exp.", "Exponential"], "paddingInner": 0.087, "paddingOuter": 0.09}, "axis": null}}},
     {"data": {"name": "res"}, "mark": {"type": "point", "opacity": 0},
      "encoding": {"x": {"field": "abs", "type": "quantitative", "scale": {"domain": [0, 0.01404], "nice": false}, "axis": {"orient": "top", "values": [0.0005, 0.001, 0.0015, 0.0025, 0.003, 0.0035, 0.0045, 0.005, 0.0055, 0.0065, 0.007, 0.0075, 0.0085, 0.009, 0.0095, 0.0105, 0.011, 0.0115, 0.0125, 0.013, 0.0135], "labels": false, "title": null, "tickSize": -3}}, "y": {"field": "model", "type": "nominal", "sort": null, "scale": {"domain": ["Power Law", "Stretched Exp.", "Exponential"], "paddingInner": 0.087, "paddingOuter": 0.09}, "axis": null}}}
    ],
    "resolve": {"axis": {"x": "independent", "y": "independent"}}
   }
  ]
 }
],
"spacing": 2
}
